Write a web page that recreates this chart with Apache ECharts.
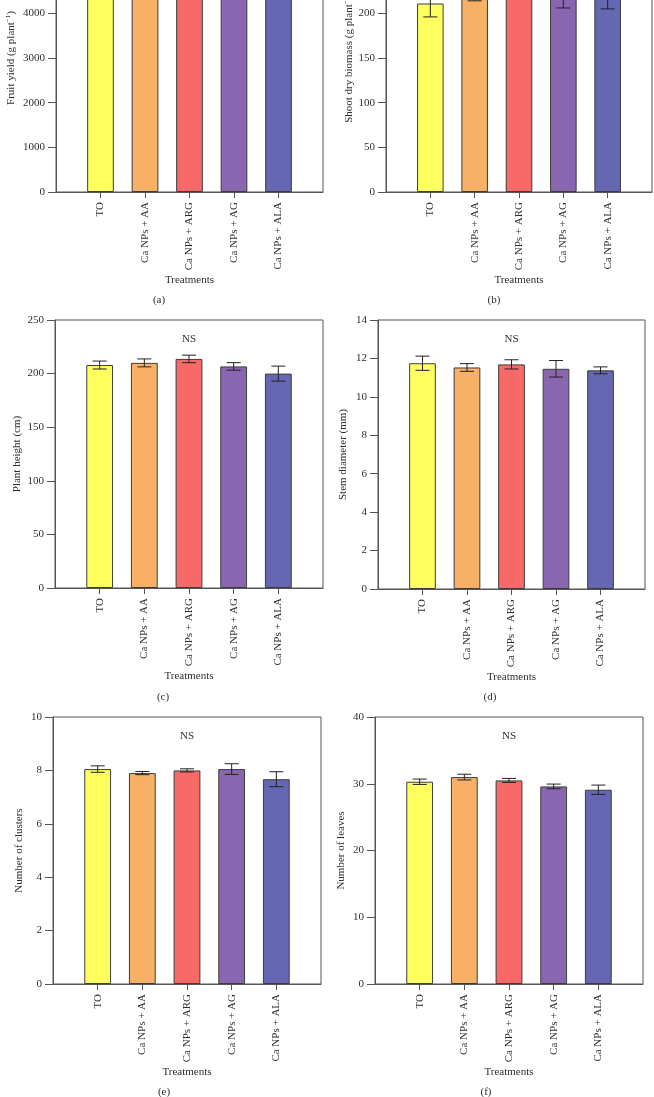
<!DOCTYPE html>
<html>
<head>
<meta charset="utf-8">
<title>Treatments</title>
<script src="https://cdn.jsdelivr.net/npm/echarts@6/dist/echarts.min.js"></script>
<style>
    html, body { margin: 0; padding: 0; background: #fff; overflow: hidden; }
    #chart { width: 654px; height: 1097px; }
</style>
</head>
<body>
<div id="chart"></div>
<script>
// 处理组
var categories = ['TO', 'Ca NPs + AA', 'Ca NPs + ARG', 'Ca NPs + AG', 'Ca NPs + ALA'];

// (a) fruit yield - bars run past the top of the picture
var fruitYield = [5200, 5350, 5500, 5300, 5150];
var fruitYieldErr = [150, 120, 180, 160, 140];
// (b)
var shootBiomass = [211, 218, 236, 222, 220];
var shootBiomassErr = [15, 4, 12, 16, 15];
// (c)
var plantHeight = [208, 210, 213.7, 206.7, 200];
var plantHeightErr = [3.7, 3.7, 3.5, 3.5, 7];
// (d)
var stemDiameter = [11.75, 11.53, 11.69, 11.46, 11.38];
var stemDiameterErr = [0.37, 0.2, 0.24, 0.43, 0.18];
// (e)
var clusters = [8.05, 7.9, 8.0, 8.05, 7.67];
var clustersErr = [0.12, 0.06, 0.06, 0.2, 0.28];
// (f)
var leaves = [30.3, 31.0, 30.5, 29.6, 29.1];
var leavesErr = [0.4, 0.43, 0.3, 0.35, 0.7];

// y axis max / step for each panel
var yMax = [6000, 300, 250, 14, 10, 40];
var yStep = [1000, 50, 50, 2, 2, 10];

var barColors = ['#FEFE5E', '#F8B066', '#F76A67', '#8A66B0', '#6567B2'];
var font = 'Liberation Serif';
var textColor = '#2e2e2e';
var lineColor = '#555';

var panels = [
    {name: 'Fruit yield (g plant{sup|−1})', data: fruitYield, err: fruitYieldErr, rect: [56, -76, 267, 268], ns: false, tag: '(a)', tagX: 159, tagY: 300, nameGap: 39},
    {name: 'Shoot dry biomass (g plant{sup|−1})', data: shootBiomass, err: shootBiomassErr, rect: [386, -76, 266, 268], ns: false, tag: '(b)', tagX: 494, tagY: 300, nameGap: 30},
    {name: 'Plant height (cm)', data: plantHeight, err: plantHeightErr, rect: [55, 320, 268, 268], ns: true, tag: '(c)', tagX: 163, tagY: 697, nameGap: 32},
    {name: 'Stem diameter (mm)', data: stemDiameter, err: stemDiameterErr, rect: [378, 320, 267, 269], ns: true, tag: '(d)', tagX: 490, tagY: 697, nameGap: 29},
    {name: 'Number of clusters', data: clusters, err: clustersErr, rect: [53, 717, 268, 267], ns: true, tag: '(e)', tagX: 164, tagY: 1092, nameGap: 28},
    {name: 'Number of leaves', data: leaves, err: leavesErr, rect: [375, 717, 268, 267], ns: true, tag: '(f)', tagX: 486, tagY: 1092, nameGap: 28}
];

var xData = [''].concat(categories, ['']);

function renderErrorBar(params, api) {
    var x = api.value(0);
    var lo = api.coord([x, api.value(1)]);
    var hi = api.coord([x, api.value(2)]);
    var w = 7;
    var style = {stroke: '#222', lineWidth: 1, fill: null};
    return {
        type: 'group',
        children: [
            {type: 'line', shape: {x1: hi[0], y1: hi[1], x2: lo[0], y2: lo[1]}, style: style},
            {type: 'line', shape: {x1: hi[0] - w, y1: hi[1], x2: hi[0] + w, y2: hi[1]}, style: style},
            {type: 'line', shape: {x1: lo[0] - w, y1: lo[1], x2: lo[0] + w, y2: lo[1]}, style: style}
        ]
    };
}

var grids = [], xAxes = [], yAxes = [], series = [], graphics = [];

for (var i = 0; i < panels.length; i++) {
    var p = panels[i];
    grids.push({
        left: p.rect[0], top: p.rect[1], width: p.rect[2], height: p.rect[3],
        outerBoundsMode: 'none',
        containLabel: false,
        show: true, borderColor: lineColor, borderWidth: 1, backgroundColor: 'transparent'
    });
    xAxes.push({
        gridIndex: i,
        type: 'category',
        data: xData,
        boundaryGap: false,
        axisLine: {lineStyle: {color: lineColor, width: 1}},
        axisTick: {
            length: 6,
            interval: function (idx) { return idx > 0 && idx < xData.length - 1; },
            lineStyle: {color: lineColor}
        },
        axisLabel: {rotate: 90, margin: 10, interval: 0, fontSize: 11, color: textColor, fontFamily: font},
        name: 'Treatments',
        nameLocation: 'middle',
        nameGap: 80,
        nameTextStyle: {fontSize: 11, color: textColor, fontFamily: font}
    });
    yAxes.push({
        gridIndex: i,
        type: 'value',
        min: 0,
        max: yMax[i],
        interval: yStep[i],
        splitLine: {show: false},
        axisLine: {show: true, lineStyle: {color: lineColor, width: 1}},
        axisTick: {show: true, length: 8, lineStyle: {color: lineColor}},
        axisLabel: {
            margin: 11, fontSize: 11, color: textColor, fontFamily: font,
            formatter: function (v) { return String(v); }
        },
        name: p.name,
        nameLocation: 'middle',
        nameGap: p.nameGap,
        nameTextStyle: {
            fontSize: 11, color: textColor, fontFamily: font,
            rich: {sup: {fontSize: 7, color: textColor, fontFamily: font, padding: [0, 0, 5, 0]}}
        }
    });
    series.push({
        type: 'bar',
        xAxisIndex: i,
        yAxisIndex: i,
        barWidth: '60%',
        itemStyle: {borderColor: '#3d3d3d', borderWidth: 1},
        data: p.data.map(function (v, k) {
            return {value: [k + 1, v], itemStyle: {color: barColors[k]}};
        })
    });
    series.push({
        type: 'custom',
        xAxisIndex: i,
        yAxisIndex: i,
        z: 5,
        renderItem: renderErrorBar,
        encode: {x: 0, y: [1, 2]},
        data: p.data.map(function (v, k) {
            return [k + 1, v - p.err[k], v + p.err[k]];
        })
    });
    if (p.ns) {
        graphics.push({
            type: 'text',
            x: p.rect[0] + p.rect[2] / 2,
            y: p.rect[1] + 19,
            style: {text: 'NS', fontSize: 11, fill: textColor, fontFamily: font, textAlign: 'center', textVerticalAlign: 'middle'}
        });
    }
    graphics.push({
        type: 'text',
        x: p.tagX,
        y: p.tagY,
        style: {text: p.tag, fontSize: 11, fill: textColor, fontFamily: font, textAlign: 'center', textVerticalAlign: 'middle'}
    });
}

var myChart = echarts.init(document.getElementById('chart'));
myChart.setOption({
    backgroundColor: '#fff',
    animation: false,
    grid: grids,
    xAxis: xAxes,
    yAxis: yAxes,
    series: series,
    graphic: graphics
});
</script>
</body>
</html>
